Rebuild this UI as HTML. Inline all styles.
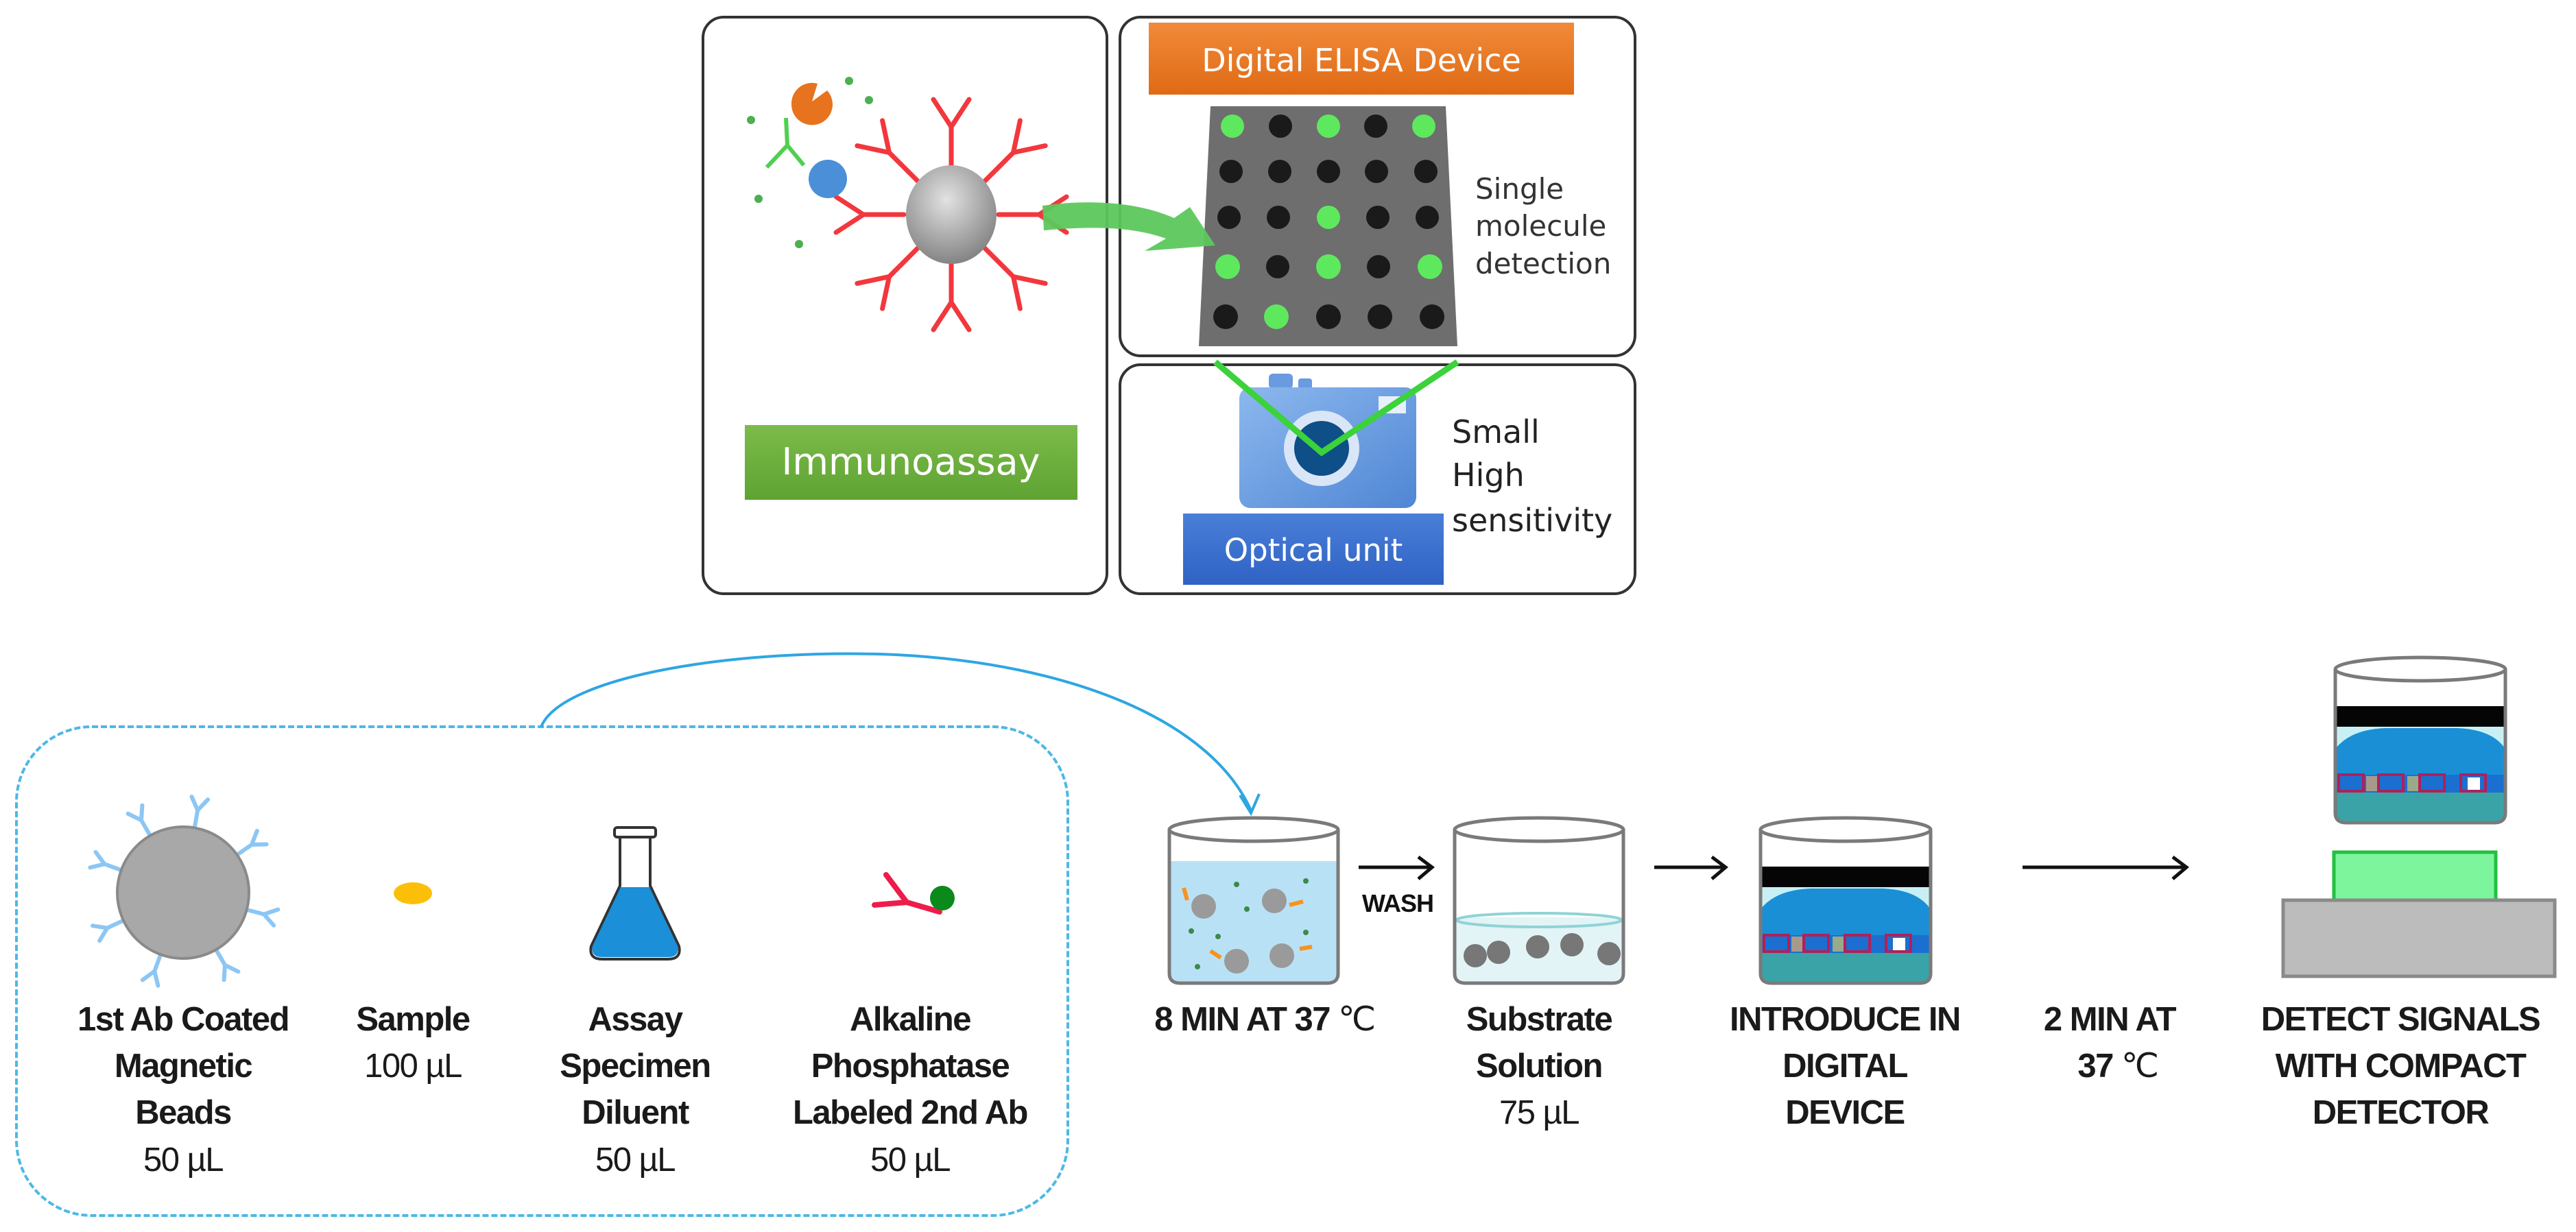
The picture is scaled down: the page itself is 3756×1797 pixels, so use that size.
<!DOCTYPE html>
<html><head><meta charset="utf-8"><style>html,body{margin:0;padding:0;background:#fff}svg{display:block}</style></head>
<body>
<svg xmlns="http://www.w3.org/2000/svg" width="3756" height="1797" viewBox="0 0 3756 1797">
<defs>
<radialGradient id="bead" cx="0.45" cy="0.35" r="0.7"><stop offset="0" stop-color="#e2e2e2"/><stop offset="1" stop-color="#7d7d7d"/></radialGradient>
<linearGradient id="org" x1="0" y1="0" x2="0" y2="1"><stop offset="0" stop-color="#f08a3a"/><stop offset="1" stop-color="#e06a14"/></linearGradient>
<linearGradient id="grn" x1="0" y1="0" x2="0" y2="1"><stop offset="0" stop-color="#7cbb4a"/><stop offset="1" stop-color="#5ea332"/></linearGradient>
<linearGradient id="blu" x1="0" y1="0" x2="0" y2="1"><stop offset="0" stop-color="#4a7fd8"/><stop offset="1" stop-color="#2f62c4"/></linearGradient>
<linearGradient id="cam" x1="0" y1="0" x2="1" y2="1"><stop offset="0" stop-color="#8db8ee"/><stop offset="1" stop-color="#4f86d4"/></linearGradient>
<g id="redY"><path d="M0,-69 L0,-128 M0,-128 L-26,-168 M0,-128 L26,-168" stroke="#f2373d" stroke-width="7" fill="none" stroke-linecap="round"/></g>
<g id="blueY"><path d="M0,-96 L0,-122 M0,-122 L-12,-140 M0,-122 L12,-140" stroke="#8cc6f4" stroke-width="6" fill="none" stroke-linecap="round"/></g>
</defs>

<rect x="1025" y="25" width="589" height="841" rx="30" fill="#fff" stroke="#333" stroke-width="4"/>
<rect x="1633" y="25" width="751" height="494" rx="30" fill="#fff" stroke="#333" stroke-width="4"/>
<rect x="1633" y="532" width="751" height="334" rx="30" fill="#fff" stroke="#333" stroke-width="4"/>

<g transform="translate(1387,313)">
<use href="#redY" transform="rotate(0)"/><use href="#redY" transform="rotate(45)"/><use href="#redY" transform="rotate(90)"/><use href="#redY" transform="rotate(135)"/>
<use href="#redY" transform="rotate(180)"/><use href="#redY" transform="rotate(225)"/><use href="#redY" transform="rotate(270)"/><use href="#redY" transform="rotate(315)"/>
</g>
<ellipse cx="1387" cy="313" rx="66" ry="72" fill="url(#bead)"/>
<path d="M1146,172 L1148,212 M1148,212 L1118,244 M1148,212 L1172,241" stroke="#4fd04f" stroke-width="6" fill="none"/>
<path d="M1184,152 m-30,0 a30,30 0 1,0 52,-20 l-22,16 l8,-26 a30,30 0 0,0 -38,30z" fill="#e8731e"/>
<circle cx="1207" cy="261" r="28" fill="#4a8fd8"/>
<g fill="#4caf50"><circle cx="1238" cy="118" r="6"/><circle cx="1267" cy="146" r="6"/><circle cx="1095" cy="175" r="6"/><circle cx="1106" cy="290" r="6"/><circle cx="1165" cy="356" r="6"/></g>

<rect x="1086" y="620" width="485" height="109" fill="url(#grn)"/>
<text x="1328" y="692" text-anchor="middle" font-family="DejaVu Sans, sans-serif" font-size="54" fill="#fff">Immunoassay</text>

<rect x="1675" y="33" width="620" height="105" fill="url(#org)"/>
<text x="1985" y="104" text-anchor="middle" font-family="DejaVu Sans, sans-serif" font-size="46" fill="#fff">Digital ELISA Device</text>
<polygon points="1765,155 2108,155 2125,505 1748,505" fill="#6e6e6e"/>
<g>
<circle cx="1797" cy="184" r="17" fill="#5ee85e"/><circle cx="1867" cy="184" r="17" fill="#1a1a1a"/><circle cx="1937" cy="184" r="17" fill="#5ee85e"/><circle cx="2006" cy="184" r="17" fill="#1a1a1a"/><circle cx="2076" cy="184" r="17" fill="#5ee85e"/>
<circle cx="1795" cy="250" r="17" fill="#1a1a1a"/><circle cx="1866" cy="250" r="17" fill="#1a1a1a"/><circle cx="1937" cy="250" r="17" fill="#1a1a1a"/><circle cx="2007" cy="250" r="17" fill="#1a1a1a"/><circle cx="2079" cy="250" r="17" fill="#1a1a1a"/>
<circle cx="1792" cy="317" r="17" fill="#1a1a1a"/><circle cx="1864" cy="317" r="17" fill="#1a1a1a"/><circle cx="1937" cy="317" r="17" fill="#5ee85e"/><circle cx="2009" cy="317" r="17" fill="#1a1a1a"/><circle cx="2081" cy="317" r="17" fill="#1a1a1a"/>
<circle cx="1790" cy="389" r="18" fill="#5ee85e"/><circle cx="1863" cy="389" r="17" fill="#1a1a1a"/><circle cx="1937" cy="389" r="18" fill="#5ee85e"/><circle cx="2010" cy="389" r="17" fill="#1a1a1a"/><circle cx="2085" cy="389" r="18" fill="#5ee85e"/>
<circle cx="1787" cy="462" r="18" fill="#1a1a1a"/><circle cx="1861" cy="462" r="18" fill="#5ee85e"/><circle cx="1937" cy="462" r="18" fill="#1a1a1a"/><circle cx="2012" cy="462" r="18" fill="#1a1a1a"/><circle cx="2088" cy="462" r="18" fill="#1a1a1a"/>
</g>
<path d="M1520,300 C1590,290 1660,295 1712,318 L1735,302 L1772,358 L1669,366 L1700,348 C1650,330 1590,330 1522,336 Z" fill="#5cc85c" opacity="0.95"/>
<g font-family="DejaVu Sans, sans-serif" font-size="42" fill="#333">
<text x="2151" y="290">Single</text><text x="2151" y="344">molecule</text><text x="2151" y="399">detection</text>
</g>

<rect x="1850" y="545" width="35" height="22" rx="6" fill="#6a9ae0"/><rect x="1893" y="552" width="20" height="16" rx="4" fill="#6a9ae0"/>
<rect x="1807" y="565" width="258" height="176" rx="16" fill="url(#cam)"/>
<rect x="2010" y="578" width="40" height="25" fill="#e8f0fb"/>
<circle cx="1927" cy="654" r="55" fill="#d9e6f7"/>
<circle cx="1927" cy="654" r="40" fill="#0d4f86"/>
<polyline points="1772,528 1927,660 2125,528" fill="none" stroke="#3bd23b" stroke-width="9"/>
<rect x="1725" y="749" width="380" height="104" fill="url(#blu)"/>
<text x="1915" y="818" text-anchor="middle" font-family="DejaVu Sans, sans-serif" font-size="45" fill="#fff">Optical unit</text>
<g font-family="DejaVu Sans, sans-serif" font-size="46" fill="#222">
<text x="2117" y="646">Small</text><text x="2117" y="709">High</text><text x="2117" y="775">sensitivity</text>
</g>

<rect x="24" y="1060" width="1533" height="713" rx="110" fill="none" stroke="#4db8e6" stroke-width="4" stroke-dasharray="9,4"/>
<path d="M789,1060 C820,985 1080,945 1307,955 C1560,968 1765,1050 1824,1182" fill="none" stroke="#2ea6e2" stroke-width="4"/>
<path d="M1808,1160 L1824,1186 L1836,1158" fill="none" stroke="#2ea6e2" stroke-width="4"/>

<g transform="translate(267,1302)">
<use href="#blueY" transform="rotate(-30)"/><use href="#blueY" transform="rotate(10)"/><use href="#blueY" transform="rotate(55)"/><use href="#blueY" transform="rotate(105)"/>
<use href="#blueY" transform="rotate(150)"/><use href="#blueY" transform="rotate(200)"/><use href="#blueY" transform="rotate(245)"/><use href="#blueY" transform="rotate(290)"/>
</g>
<circle cx="267" cy="1302" r="96" fill="#a8a8a8" stroke="#8a8a8a" stroke-width="4"/>
<ellipse cx="602" cy="1303" rx="28" ry="16" fill="#fbbf0a"/>
<path d="M904,1220 L904,1292 L862,1380 Q858,1399 878,1399 L974,1399 Q994,1399 990,1380 L948,1292 L948,1220" fill="#fff" stroke="#333" stroke-width="4"/>
<path d="M905,1294 L947,1294 L988,1380 Q991,1396 974,1396 L878,1396 Q861,1396 864,1380 Z" fill="#1b8fd8"/>
<rect x="896" y="1207" width="60" height="14" rx="4" fill="#fff" stroke="#333" stroke-width="4"/>
<path d="M1292,1276 L1322,1316 M1275,1320 L1322,1316 L1370,1330" stroke="#ee1c4a" stroke-width="8" fill="none" stroke-linecap="round"/>
<circle cx="1374" cy="1310" r="18" fill="#0a8a1a"/>

<g font-family="Liberation Sans, sans-serif" font-size="49" fill="#1a1a1a" text-anchor="middle" letter-spacing="-1.5">
<text x="267" y="1503" font-weight="bold">1st Ab Coated</text>
<text x="267" y="1571" font-weight="bold">Magnetic</text>
<text x="267" y="1639" font-weight="bold">Beads</text>
<text x="267" y="1708">50 µL</text>
<text x="602" y="1503" font-weight="bold">Sample</text>
<text x="602" y="1571">100 µL</text>
<text x="926" y="1503" font-weight="bold">Assay</text>
<text x="926" y="1571" font-weight="bold">Specimen</text>
<text x="926" y="1639" font-weight="bold">Diluent</text>
<text x="926" y="1708">50 µL</text>
<text x="1327" y="1503" font-weight="bold">Alkaline</text>
<text x="1327" y="1571" font-weight="bold">Phosphatase</text>
<text x="1327" y="1639" font-weight="bold">Labeled 2nd Ab</text>
<text x="1327" y="1708">50 µL</text>
<text x="1844" y="1503"><tspan font-weight="bold">8 MIN AT 37 </tspan>℃</text>
<text x="2244" y="1503" font-weight="bold">Substrate</text>
<text x="2244" y="1571" font-weight="bold">Solution</text>
<text x="2244" y="1639">75  µL</text>
<text x="2690" y="1503" font-weight="bold">INTRODUCE IN</text>
<text x="2690" y="1571" font-weight="bold">DIGITAL</text>
<text x="2690" y="1639" font-weight="bold">DEVICE</text>
<text x="3076" y="1503" font-weight="bold">2 MIN AT</text>
<text x="3088" y="1571"><tspan font-weight="bold">37 </tspan>℃</text>
<text x="3500" y="1503" font-weight="bold">DETECT SIGNALS</text>
<text x="3500" y="1571" font-weight="bold">WITH COMPACT</text>
<text x="3500" y="1639" font-weight="bold">DETECTOR</text>
</g>

<path d="M1705,1256 L1951,1256 L1951,1420 Q1951,1434 1935,1434 L1721,1434 Q1705,1434 1705,1420 Z" fill="#b9e1f6"/>
<g fill="#9a9a9a"><circle cx="1755" cy="1322" r="18"/><circle cx="1858" cy="1314" r="18"/><circle cx="1803" cy="1402" r="18"/><circle cx="1869" cy="1394" r="18"/></g>
<g stroke="#f7931e" stroke-width="6"><path d="M1726,1295 l5,18"/><path d="M1880,1320 l20,-5"/><path d="M1765,1387 l15,10"/><path d="M1895,1384 l18,-3"/></g>
<g fill="#3a8a4a"><circle cx="1803" cy="1290" r="4"/><circle cx="1818" cy="1326" r="4"/><circle cx="1737" cy="1358" r="4"/><circle cx="1776" cy="1366" r="4"/><circle cx="1904" cy="1285" r="4"/><circle cx="1904" cy="1360" r="4"/><circle cx="1746" cy="1410" r="4"/></g>
<path d="M1705,1210 L1705,1420 Q1705,1434 1721,1434 L1935,1434 Q1951,1434 1951,1420 L1951,1210" fill="none" stroke="#7a7a7a" stroke-width="5"/>
<ellipse cx="1828" cy="1210" rx="123" ry="17" fill="none" stroke="#7a7a7a" stroke-width="5"/>
<path d="M1981,1265 L2088,1265 M2068,1250 L2088,1265 L2068,1282" stroke="#111" stroke-width="5" fill="none"/>
<text x="2038" y="1330" text-anchor="middle" font-family="Liberation Sans, sans-serif" font-weight="bold" font-size="36" letter-spacing="-1" fill="#111">WASH</text>
<path d="M2121,1338 L2367,1338 L2367,1420 Q2367,1434 2351,1434 L2137,1434 Q2121,1434 2121,1420 Z" fill="#e2f4f6"/>
<ellipse cx="2244" cy="1342" rx="120" ry="10" fill="none" stroke="#8fd3d6" stroke-width="4"/>
<g fill="#777"><circle cx="2151" cy="1394" r="17"/><circle cx="2185" cy="1389" r="17"/><circle cx="2242" cy="1381" r="17"/><circle cx="2292" cy="1378" r="17"/><circle cx="2346" cy="1391" r="17"/></g>
<path d="M2121,1210 L2121,1420 Q2121,1434 2137,1434 L2351,1434 Q2367,1434 2367,1420 L2367,1210" fill="none" stroke="#7a7a7a" stroke-width="5"/>
<ellipse cx="2244" cy="1210" rx="123" ry="17" fill="none" stroke="#7a7a7a" stroke-width="5"/>
<path d="M2412,1265 L2516,1265 M2496,1250 L2516,1265 L2496,1282" stroke="#111" stroke-width="5" fill="none"/>

<g id="dev3">
<rect x="2568" y="1264" width="246" height="30" fill="#050505"/>
<rect x="2568" y="1294" width="246" height="70" fill="#c8f0f4"/>
<path d="M2568,1364 L2568,1325 Q2590,1298 2640,1296 L2745,1296 Q2795,1298 2814,1325 L2814,1364 Z" fill="#1a8fd6"/>
<rect x="2568" y="1364" width="246" height="26" fill="#1a6fd0"/>
<g fill="none" stroke="#b0205a" stroke-width="4"><rect x="2572" y="1364" width="36" height="24"/><rect x="2630" y="1364" width="36" height="24"/><rect x="2690" y="1364" width="36" height="24"/><rect x="2750" y="1364" width="36" height="24"/></g>
<rect x="2612" y="1366" width="16" height="22" fill="#a89a8a"/><rect x="2672" y="1366" width="16" height="22" fill="#9aa98a"/><rect x="2760" y="1368" width="18" height="18" fill="#fff"/>
<path d="M2568,1390 L2814,1390 L2814,1420 Q2814,1434 2798,1434 L2584,1434 Q2568,1434 2568,1420 Z" fill="#3aa3a8"/>
<path d="M2567,1210 L2567,1420 Q2567,1434 2583,1434 L2799,1434 Q2815,1434 2815,1420 L2815,1210" fill="none" stroke="#7a7a7a" stroke-width="5"/>
<ellipse cx="2691" cy="1210" rx="124" ry="17" fill="none" stroke="#7a7a7a" stroke-width="5"/>
</g>
<use href="#dev3" transform="translate(838,-234)"/>

<path d="M2949,1265 L3188,1265 M3168,1250 L3188,1265 L3168,1282" stroke="#111" stroke-width="5" fill="none"/>

<rect x="3403" y="1243" width="236" height="70" fill="#7df59c" stroke="#22c040" stroke-width="5"/>
<rect x="3329" y="1313" width="396" height="111" fill="#bcbcbc" stroke="#8a8a8a" stroke-width="5"/>
</svg>
</body></html>
